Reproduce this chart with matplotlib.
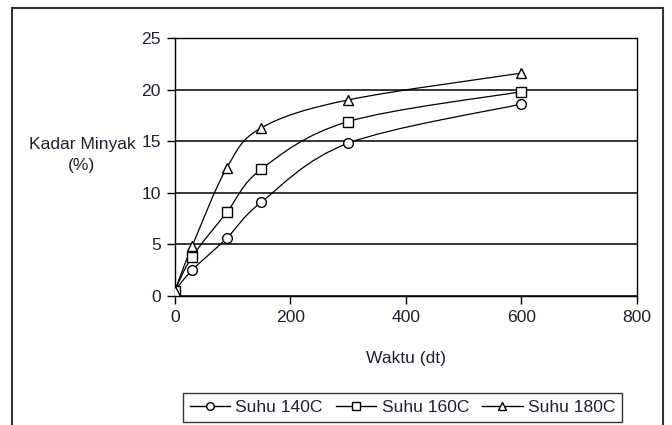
import matplotlib
matplotlib.use("Agg")
import matplotlib.pyplot as plt
import numpy as np
from matplotlib.path import Path
from matplotlib.patches import PathPatch
from matplotlib.lines import Line2D

plt.rcParams['font.family'] = ['Liberation Sans', 'DejaVu Sans']

# ---- data ----
waktu = [0, 30, 90, 150, 300, 600]
suhu_140 = [0.5, 2.5, 5.6, 9.1, 14.8, 18.6]
suhu_160 = [0.5, 3.8, 8.1, 12.3, 16.9, 19.8]
suhu_180 = [0.5, 4.8, 12.4, 16.3, 19.0, 21.6]
series_labels = ['Suhu 140C', 'Suhu 160C', 'Suhu 180C']
series_markers = ['o', 's', '^']
x_ticks = [0, 200, 400, 600, 800]
y_ticks = [0, 5, 10, 15, 20, 25]

TXT = '#202030'
FS = 12.6
W, H = 672, 425
fig = plt.figure(figsize=(W / 100, H / 100), dpi=100)

# outer chart border (bottom edge cut off in the reference)
fig.add_artist(Line2D([12 / W, 12 / W], [0, 1 - 8 / H], transform=fig.transFigure, color='#333333', lw=1.5))
fig.add_artist(Line2D([12 / W, 663 / W], [1 - 8 / H, 1 - 8 / H], transform=fig.transFigure, color='#333333', lw=1.5))
fig.add_artist(Line2D([663 / W, 663 / W], [0, 1 - 8 / H], transform=fig.transFigure, color='#333333', lw=1.5))

left, right, top, bottom = 174.7, 637, 38, 296
ax = fig.add_axes([left / W, 1 - bottom / H, (right - left) / W, (bottom - top) / H])
ax.set_xlim(0, 800)
ax.set_ylim(0, 25)
ax.set_xticks(x_ticks)
ax.set_yticks(y_ticks)
ax.tick_params(axis='both', direction='out', length=6, width=1, color='black',
               labelsize=FS, labelcolor=TXT, pad=4)
for s in ax.spines.values():
    s.set_color('black')
    s.set_linewidth(1)
ax.yaxis.grid(True, color='black', lw=1.1)
ax.set_axisbelow(True)


def smooth_path(xs, ys):
    pts = np.column_stack([xs, ys]).astype(float)
    n = len(pts)
    verts = [pts[0]]
    codes = [Path.MOVETO]
    for i in range(n - 1):
        p0 = pts[i - 1] if i > 0 else pts[i]
        p1 = pts[i]
        p2 = pts[i + 1]
        p3 = pts[i + 2] if i + 2 < n else pts[i + 1]
        c1 = p1 + (p2 - p0) / 6.0
        c2 = p2 - (p3 - p1) / 6.0
        verts += [c1, c2, p2]
        codes += [Path.CURVE4] * 3
    return Path(verts, codes)


handles = []
for ys, lab, mk in zip([suhu_140, suhu_160, suhu_180], series_labels, series_markers):
    ax.add_patch(PathPatch(smooth_path(waktu, ys), facecolor='none', edgecolor='black', lw=0.9, zorder=3))
    ms = 7 if mk == 'o' else 7.5
    ax.plot(waktu, ys, linestyle='none', marker=mk, ms=ms, mfc='white', mec='black', mew=1.0, zorder=4)
    handles.append(Line2D([], [], color='black', lw=1.0, marker=mk, ms=5.5, mfc='white', mec='black', mew=1.0, label=lab))

fig.text(82 / W, 1 - 155 / H, 'Kadar Minyak\n(%)', ha='center', va='center', fontsize=FS,
         color=TXT, linespacing=1.45)
fig.text(406 / W, 1 - 358 / H, 'Waktu (dt)', ha='center', va='center', fontsize=FS, color=TXT)

leg = fig.legend(handles=handles, loc='upper left', bbox_to_anchor=(183 / W, 1 - 393 / H),
                 ncol=3, fontsize=FS, frameon=True, fancybox=False, edgecolor='black',
                 handlelength=2.3, handletextpad=0.3, columnspacing=0.75, borderpad=0.4,
                 borderaxespad=0)
leg.get_frame().set_linewidth(1.0)
for t in leg.get_texts():
    t.set_color(TXT)

fig.savefig('out.png', dpi=100)
